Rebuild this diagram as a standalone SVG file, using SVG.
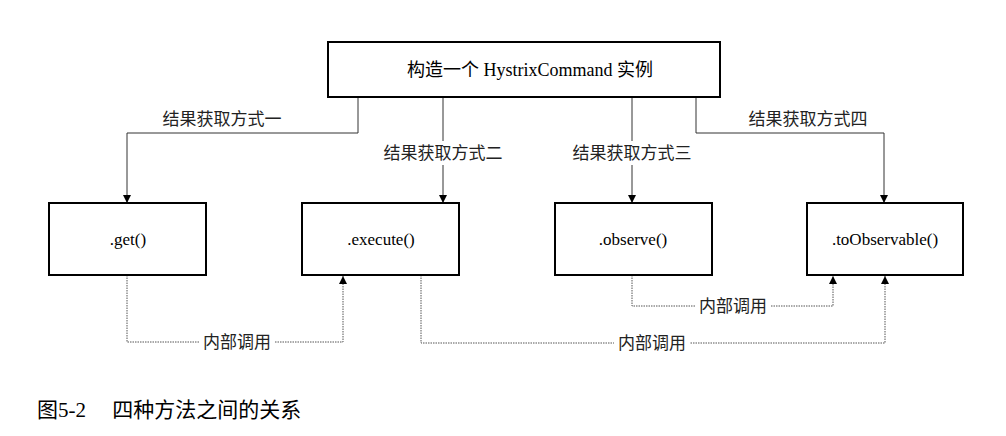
<svg xmlns="http://www.w3.org/2000/svg" width="1006" height="436" viewBox="0 0 1006 436">
<style>
.box{fill:#fff;stroke:#000;stroke-width:2}
.t{font-family:"Liberation Serif","Noto Sans CJK SC",serif;font-size:17px;fill:#000;text-anchor:middle}
.tl{font-family:"Liberation Serif","Noto Sans CJK SC",serif;font-size:18px;fill:#000;text-anchor:middle}
.lbl{font-family:"Liberation Serif","Noto Sans CJK SC",serif;font-size:17px;fill:#222;text-anchor:middle}
.solid{fill:none;stroke:#333;stroke-width:1}
.dot{fill:none;stroke:#555;stroke-width:1;stroke-dasharray:1.5 1}
.cap{font-family:"Liberation Serif","Noto Sans CJK SC",serif;font-size:21px;fill:#000}
</style>
<defs>
<marker id="a" viewBox="0 0 10 10" refX="10" refY="5" markerWidth="8" markerHeight="8" markerUnits="userSpaceOnUse" orient="auto">
<path d="M0,0L10,5L0,10z" fill="#000"/>
</marker>
</defs>
<rect width="1006" height="436" fill="#fff"/>
<g id="connectors">
<polyline class="solid" points="358,97 358,133 127,133 127,203" marker-end="url(#a)"/>
<line class="solid" x1="443" y1="97" x2="443" y2="203" marker-end="url(#a)"/>
<line class="solid" x1="632" y1="97" x2="632" y2="203" marker-end="url(#a)"/>
<polyline class="solid" points="696,97 696,133 884,133 884,203" marker-end="url(#a)"/>
<polyline class="dot" points="127,275 127,342 343,342 343,276" marker-end="url(#a)"/>
<polyline class="dot" points="421,275 421,343 885,343 885,276" marker-end="url(#a)"/>
<polyline class="dot" points="632,275 632,306 833,306 833,276" marker-end="url(#a)"/>
<rect x="157" y="107" width="130" height="24" fill="#fff"/>
<text class="lbl" x="222" y="125">结果获取方式一</text>
<rect x="378" y="141" width="130" height="24" fill="#fff"/>
<text class="lbl" x="443" y="159">结果获取方式二</text>
<rect x="567" y="141" width="130" height="24" fill="#fff"/>
<text class="lbl" x="632" y="159">结果获取方式三</text>
<rect x="743" y="107" width="130" height="24" fill="#fff"/>
<text class="lbl" x="808" y="125">结果获取方式四</text>
<rect x="199" y="332" width="76" height="20" fill="#fff"/>
<text class="lbl" x="237" y="348">内部调用</text>
<rect x="695" y="296" width="76" height="20" fill="#fff"/>
<text class="lbl" x="733" y="312">内部调用</text>
<rect x="614" y="333" width="76" height="20" fill="#fff"/>
<text class="lbl" x="652" y="349">内部调用</text>
</g>
<g id="node-top">
<rect class="box" x="328" y="42" width="392" height="55"/>
<text class="tl" x="530" y="76">构造一个 HystrixCommand 实例</text>
</g>
<g id="node-get">
<rect class="box" x="49" y="203" width="157" height="72"/>
<text class="t" x="128" y="245">.get()</text>
</g>
<g id="node-execute">
<rect class="box" x="302" y="203" width="157" height="72"/>
<text class="t" x="381" y="245">.execute()</text>
</g>
<g id="node-observe">
<rect class="box" x="555" y="203" width="157" height="72"/>
<text class="t" x="633" y="245">.observe()</text>
</g>
<g id="node-toObservable">
<rect class="box" x="807" y="203" width="156" height="72"/>
<text class="t" x="885" y="245">.toObservable()</text>
</g>
<text class="cap" x="37" y="417">图5-2　 四种方法之间的关系</text>
</svg>
